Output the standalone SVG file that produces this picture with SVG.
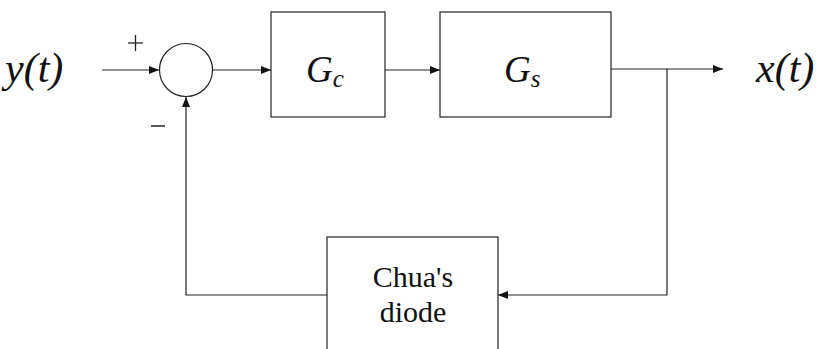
<svg xmlns="http://www.w3.org/2000/svg" width="821" height="349" viewBox="0 0 821 349">
<style>
.b{fill:#fff;stroke:#222;stroke-width:1.2}
.l{fill:none;stroke:#222;stroke-width:1.2}
</style>
<defs>
<marker id="a" viewBox="0 0 10 8" refX="10" refY="4" markerWidth="10" markerHeight="8" markerUnits="userSpaceOnUse" orient="auto">
<path d="M0,0 L10,4 L0,8 Z" fill="#111"/>
</marker>
</defs>
<rect width="821" height="349" fill="#fff"/>
<g id="connectors">
<line class="l" x1="102" y1="70" x2="159" y2="70" marker-end="url(#a)"/>
<line class="l" x1="213" y1="70" x2="271" y2="70" marker-end="url(#a)"/>
<line class="l" x1="385" y1="70" x2="440" y2="70" marker-end="url(#a)"/>
<line class="l" x1="611" y1="69" x2="723" y2="69" marker-end="url(#a)"/>
<polyline class="l" points="667,69 667,295 498,295" marker-end="url(#a)"/>
<polyline class="l" points="327,295 186,295 186,97" marker-end="url(#a)"/>
</g>
<g id="input"><text x="5" y="82" font-family="Liberation Serif" font-style="italic" font-size="42" fill="#111">y(t)</text></g>
<g id="output"><text x="756" y="82" font-family="Liberation Serif" font-style="italic" font-size="42" fill="#111">x(t)</text></g>
<g id="sum">
<circle class="b" cx="186" cy="70" r="26.5"/>
<line x1="128" y1="43" x2="143" y2="43" stroke="#222" stroke-width="1.3"/>
<line x1="135.5" y1="35" x2="135.5" y2="51" stroke="#222" stroke-width="1.3"/>
<line x1="151" y1="126" x2="165" y2="126" stroke="#222" stroke-width="1.5"/>
</g>
<g id="Gc">
<rect class="b" x="271" y="12" width="114" height="105"/>
<text x="306" y="82" font-family="Liberation Serif" font-style="italic" font-size="37" fill="#111">G<tspan font-size="25" dy="5">c</tspan></text>
</g>
<g id="Gs">
<rect class="b" x="440" y="12" width="171" height="105"/>
<text x="504" y="82" font-family="Liberation Serif" font-style="italic" font-size="37" fill="#111">G<tspan font-size="25" dy="5">s</tspan></text>
</g>
<g id="chua">
<rect class="b" x="327" y="237" width="171" height="130"/>
<text x="413" y="287" font-family="Liberation Serif" font-size="30" text-anchor="middle" fill="#111">Chua's</text>
<text x="413" y="322" font-family="Liberation Serif" font-size="30" text-anchor="middle" fill="#111">diode</text>
</g>
</svg>
